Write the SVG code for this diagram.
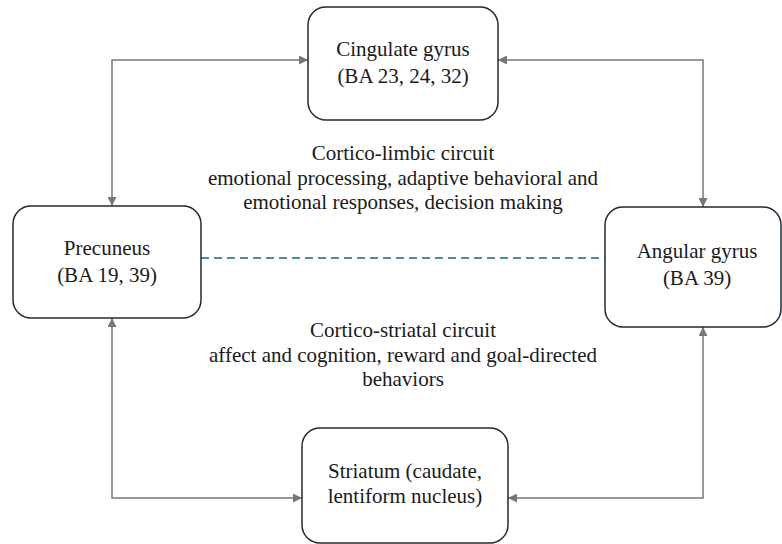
<svg xmlns="http://www.w3.org/2000/svg" width="782" height="544" viewBox="0 0 782 544">
<defs>
<marker id="ah" viewBox="0 0 10 10" refX="10" refY="5" markerWidth="7" markerHeight="6" orient="auto-start-reverse" markerUnits="strokeWidth">
<path d="M0,0 L10,5 L0,10 Z" fill="#777777"/>
</marker>
<style>
.box{fill:#ffffff;stroke:#1f2a36;stroke-width:1.5}
.c{fill:none;stroke:#777777;stroke-width:1.5;marker-start:url(#ah);marker-end:url(#ah)}
.d{fill:none;stroke:#1f5f8b;stroke-width:1.5;stroke-dasharray:8,5}
</style>
</defs>
<rect width="782" height="544" fill="#ffffff"/>
<g id="connectors">
<path class="c" d="M308,60 L112,60 L112,206"/>
<path class="c" d="M498,60 L703,60 L703,207"/>
<path class="c" d="M112,318 L112,498 L302,498"/>
<path class="c" d="M703,327 L703,498 L508,498"/>
<path class="d" d="M201,258 L605,258"/>
</g>
<g font-family="'Liberation Serif', 'Times New Roman', 'DejaVu Serif', serif" font-size="21" fill="#1a1a1a" text-anchor="middle">
<g id="cingulate">
<rect class="box" x="308" y="7" width="190" height="113" rx="18"/>
<text x="403" y="56">Cingulate gyrus</text>
<text x="403" y="83">(BA 23, 24, 32)</text>
</g>
<g id="precuneus">
<rect class="box" x="13" y="206" width="188" height="112" rx="18"/>
<text x="107" y="255">Precuneus</text>
<text x="107" y="282">(BA 19, 39)</text>
</g>
<g id="angular">
<rect class="box" x="605" y="207" width="176" height="120" rx="18"/>
<text x="697" y="258">Angular gyrus</text>
<text x="697" y="285">(BA 39)</text>
</g>
<g id="striatum">
<rect class="box" x="302" y="428" width="206" height="115" rx="18"/>
<text x="405" y="478">Striatum (caudate,</text>
<text x="405" y="503">lentiform nucleus)</text>
</g>
<g id="limbic-label">
<text x="403" y="160">Cortico-limbic circuit</text>
<text x="403" y="185">emotional processing, adaptive behavioral and</text>
<text x="403" y="209">emotional responses, decision making</text>
</g>
<g id="striatal-label">
<text x="403" y="337">Cortico-striatal circuit</text>
<text x="403" y="362">affect and cognition, reward and goal-directed</text>
<text x="403" y="386">behaviors</text>
</g>
</g>
</svg>
